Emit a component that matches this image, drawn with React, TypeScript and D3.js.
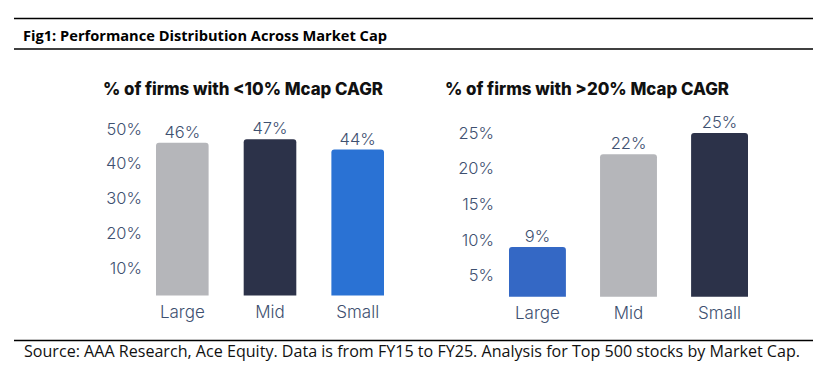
import React from "react";
import * as d3 from "d3";

const categories = ["Large", "Mid", "Small"];
const leftValues = [46, 47, 44];
const rightValues = [9, 22, 25];
const leftTicks = [10, 20, 30, 40, 50];
const rightTicks = [5, 10, 15, 20, 25];
const barBase = 2;
const leftColors = ["#b5b6ba", "#2c3249", "#2a72d4"];
const rightColors = ["#3468c5", "#b5b6ba", "#2c3249"];

const W = 825;
const H = 367;
const FONT = "Inter, 'Open Sans', sans-serif";
const LABEL = "#3e5070";

type PanelProps = {
  title: string;
  titleX: number;
  titleW: number;
  values: number[];
  colors: string[];
  ticks: number[];
  domain: [number, number];
  yRange: [number, number];
  xRange: [number, number];
  tickX: number;
  padding: number;
};

function Panel(p: PanelProps) {
  const y = d3.scaleLinear().domain(p.domain).range(p.yRange);
  const x = d3.scaleBand().domain(categories).range(p.xRange).paddingInner(p.padding).paddingOuter(0);
  const base = y(barBase);
  return (
    <g>
      <text x={p.titleX} y={95} fontFamily="Inter, sans-serif" fontWeight={800} fontSize={17} fill="#111" textLength={p.titleW} lengthAdjust="spacingAndGlyphs">
        {p.title}
      </text>
      {p.ticks.map((t) => (
        <text key={t} x={p.tickX} y={y(t)} dy="0.35em" textAnchor="end" fontFamily={FONT} fontWeight={300} fontSize={16.5} fill={LABEL}>
          {t}%
        </text>
      ))}
      {categories.map((c, i) => {
        const x0 = x(c)!;
        const top = y(p.values[i]);
        const bw = x.bandwidth();
        const r = 3;
        const path = `M${x0},${base} L${x0},${top + r} Q${x0},${top} ${x0 + r},${top} L${x0 + bw - r},${top} Q${x0 + bw},${top} ${x0 + bw},${top + r} L${x0 + bw},${base} Z`;
        return (
          <g key={c}>
            <path d={path} fill={p.colors[i]} />
            <text x={x0 + bw / 2} y={top - 5} textAnchor="middle" fontFamily={FONT} fontWeight={300} fontSize={16.5} fill={LABEL}>
              {p.values[i]}%
            </text>
            <text x={x0 + bw / 2} y={base + 16} dy="0.35em" textAnchor="middle" fontFamily={FONT} fontWeight={300} fontSize={17} fill={LABEL}>
              {c}
            </text>
          </g>
        );
      })}
    </g>
  );
}

export default function App() {
  return (
    <svg width={W} height={H} style={{ position: "absolute", left: 0, top: 0, background: "#fff" }}>
      <rect width={W} height={H} fill="#fff" />
      <line x1={14} x2={813} y1={18.5} y2={18.5} stroke="#000" strokeWidth={1.3} />
      <text x={23} y={41} fontFamily="'Open Sans', sans-serif" fontWeight={700} fontSize={14.5} fill="#000" textLength={364} lengthAdjust="spacingAndGlyphs">
        Fig1: Performance Distribution Across Market Cap
      </text>
      <line x1={14} x2={813} y1={49} y2={49} stroke="#000" strokeWidth={1.3} />
      <Panel
        title="% of firms with <10% Mcap CAGR"
        titleX={103}
        titleW={280}
        values={leftValues}
        colors={leftColors}
        ticks={leftTicks}
        domain={[0, 50]}
        yRange={[302.5, 128.75]}
        xRange={[156, 384]}
        tickX={142}
        padding={0.4}
      />
      <Panel
        title="% of firms with >20% Mcap CAGR"
        titleX={445}
        titleW={284}
        values={rightValues}
        colors={rightColors}
        ticks={rightTicks}
        domain={[0, 25]}
        yRange={[311, 132.9]}
        xRange={[509, 748]}
        tickX={494}
        padding={0.375}
      />
      <line x1={14} x2={813} y1={340.5} y2={340.5} stroke="#000" strokeWidth={1.3} />
      <text x={24} y={357} fontFamily="'Liberation Sans Narrow', 'Open Sans', sans-serif" fontSize={16} fill="#111" textLength={776} lengthAdjust="spacingAndGlyphs">
        Source: AAA Research, Ace Equity. Data is from FY15 to FY25. Analysis for Top 500 stocks by Market Cap.
      </text>
    </svg>
  );
}
